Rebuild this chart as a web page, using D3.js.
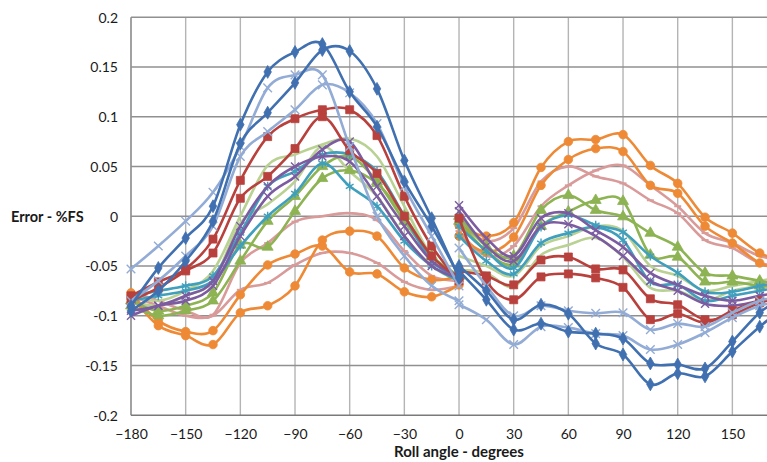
<!DOCTYPE html>
<html>
<head>
<meta charset="utf-8">
<script src="https://cdn.jsdelivr.net/npm/d3@7"></script>
<style>
  html, body { margin: 0; padding: 0; background: #ffffff; }
  svg { display: block; }
  text { font-family: Lato, "Liberation Sans", sans-serif; fill: #1a1a1a; }
</style>
</head>
<body>
<svg id="chart" width="767" height="462"></svg>
<script>
// Roll angles of the two sweeps (degrees)
const anglesNeg = [-180, -165, -150, -135, -120, -105, -90, -75, -60, -45, -30, -15, 0];
const anglesPos = [0, 15, 30, 45, 60, 75, 90, 105, 120, 135, 150, 165, 180];

// Axis ticks (gridlines run to 180; the labelled ones stop at 150, inside the frame)
const xGrid = [-180, -150, -120, -90, -60, -30, 0, 30, 60, 90, 120, 150, 180];
const xTickLabels = [-180, -150, -120, -90, -60, -30, 0, 30, 60, 90, 120, 150];
const yTicks = [-0.2, -0.15, -0.1, -0.05, 0, 0.05, 0.1, 0.15, 0.2];
const yTickLabels = ["-0.2", "-0.15", "-0.1", "-0.05", "0", "0.05", "0.1", "0.15", "0.2"];

// Error (%FS) per unit, negative sweep then positive sweep
const blueA_neg = [-0.09, -0.052, -0.022, 0.01, 0.092, 0.145, 0.165, 0.173, 0.125, 0.09, 0.035, -0.01, -0.06];
const blueA_pos = [-0.05, -0.075, -0.104, -0.089, -0.098, -0.128, -0.139, -0.169, -0.158, -0.161, -0.136, -0.111, -0.09];
const blueB_neg = [-0.095, -0.075, -0.045, -0.005, 0.073, 0.104, 0.134, 0.167, 0.166, 0.128, 0.056, -0.002, -0.062];
const blueB_pos = [-0.055, -0.084, -0.114, -0.108, -0.116, -0.118, -0.123, -0.148, -0.149, -0.153, -0.126, -0.097, -0.08];
const redA_neg = [-0.08, -0.066, -0.053, -0.023, 0.036, 0.08, 0.098, 0.107, 0.107, 0.081, 0.02, -0.03, -0.065];
const redA_pos = [-0.002, -0.065, -0.084, -0.061, -0.058, -0.062, -0.0715, -0.104, -0.098, -0.107, -0.095, -0.085, -0.08];
const redB_neg = [-0.085, -0.072, -0.055, -0.037, 0.018, 0.04, 0.068, 0.1, 0.066, 0.043, 0.0, -0.04, -0.062];
const redB_pos = [-0.055, -0.06, -0.069, -0.044, -0.041, -0.053, -0.054, -0.083, -0.089, -0.104, -0.099, -0.087, -0.08];
const greenA_neg = [-0.085, -0.095, -0.09, -0.077, -0.029, -0.031, 0.005, 0.038, 0.046, 0.033, 0.0, -0.04, -0.06];
const greenA_pos = [0.0, -0.03, -0.04, 0.006, 0.021, 0.006, -0.0005, -0.017, -0.031, -0.057, -0.06, -0.065, -0.07];
const greenB_neg = [-0.09, -0.1, -0.095, -0.085, -0.045, -0.005, 0.02, 0.05, 0.06, 0.035, -0.005, -0.04, -0.06];
const greenB_pos = [-0.005, -0.035, -0.048, -0.01, 0.0045, 0.016, 0.015, -0.039, -0.041, -0.066, -0.066, -0.07, -0.072];
const purpleA_neg = [-0.1, -0.09, -0.085, -0.07, -0.02, 0.02, 0.04, 0.067, 0.075, 0.03, -0.01, -0.045, -0.06];
const purpleA_pos = [0.011, -0.022, -0.04, -0.002, 0.003, -0.014, -0.031, -0.057, -0.069, -0.08, -0.085, -0.08, -0.075];
const purpleB_neg = [-0.095, -0.09, -0.08, -0.065, -0.01, 0.03, 0.05, 0.06, 0.055, 0.02, -0.02, -0.05, -0.062];
const purpleB_pos = [0.005, -0.03, -0.045, -0.01, -0.008, -0.02, -0.04, -0.065, -0.075, -0.088, -0.09, -0.085, -0.08];
const tealA_neg = [-0.08, -0.075, -0.07, -0.06, -0.017, 0.03, 0.045, 0.062, 0.062, 0.045, 0.0, -0.045, -0.062];
const tealA_pos = [-0.01, -0.035, -0.052, -0.011, 0.001, -0.009, -0.016, -0.04, -0.057, -0.076, -0.076, -0.07, -0.065];
const tealB_neg = [-0.085, -0.08, -0.075, -0.065, -0.03, 0.0, 0.023, 0.053, 0.03, 0.01, -0.025, -0.05, -0.065];
const tealB_pos = [-0.02, -0.045, -0.058, -0.027, -0.017, -0.011, -0.024, -0.066, -0.069, -0.085, -0.08, -0.075, -0.07];
const orangeA_neg = [-0.077, -0.105, -0.116, -0.115, -0.079, -0.049, -0.038, -0.03, -0.056, -0.058, -0.076, -0.081, -0.069];
const orangeA_pos = [-0.009, -0.02, -0.0065, 0.049, 0.075, 0.077, 0.082, 0.051, 0.033, -0.001, -0.017, -0.037, -0.045];
const orangeB_neg = [-0.08, -0.11, -0.12, -0.129, -0.097, -0.09, -0.07, -0.024, -0.015, -0.02, -0.052, -0.064, -0.06];
const orangeB_pos = [-0.02, -0.036, -0.021, 0.031, 0.057, 0.068, 0.065, 0.031, 0.023, -0.01, -0.027, -0.047, -0.055];
const lightBlueA_neg = [-0.053, -0.03, -0.005, 0.024, 0.07, 0.129, 0.142, 0.142, 0.07, 0.0, -0.04, -0.07, -0.085];
const lightBlueA_pos = [-0.089, -0.104, -0.129, -0.111, -0.112, -0.118, -0.12, -0.134, -0.129, -0.117, -0.102, -0.09, -0.085];
const lightBlueB_neg = [-0.085, -0.065, -0.04, -0.01, 0.06, 0.085, 0.107, 0.132, 0.124, 0.093, 0.03, -0.02, -0.07];
const lightBlueB_pos = [-0.032, -0.07, -0.1, -0.09, -0.095, -0.0976, -0.097, -0.114, -0.108, -0.111, -0.097, -0.085, -0.08];
const pinkA_neg = [-0.076, -0.085, -0.095, -0.099, -0.047, -0.027, -0.0055, 0.0, 0.003, -0.004, -0.035, -0.06, -0.065];
const pinkA_pos = [-0.005, -0.025, -0.012, 0.035, 0.05, 0.04, 0.033, 0.016, 0.003, -0.024, -0.032, -0.047, -0.05];
const pinkB_neg = [-0.08, -0.09, -0.1, -0.1, -0.074, -0.067, -0.049, -0.037, -0.037, -0.047, -0.066, -0.074, -0.07];
const pinkB_pos = [-0.015, -0.04, -0.03, 0.01, 0.031, 0.046, 0.051, 0.031, 0.01, -0.017, -0.027, -0.04, -0.045];
const lightGreenA_neg = [-0.08, -0.085, -0.075, -0.055, 0.0, 0.051, 0.062, 0.072, 0.078, 0.06, 0.01, -0.04, -0.062];
const lightGreenA_pos = [-0.054, -0.057, -0.071, -0.039, -0.029, -0.022, -0.041, -0.072, -0.075, -0.085, -0.075, -0.07, -0.065];
const lightGreenB_neg = [-0.085, -0.09, -0.08, -0.065, -0.007, 0.012, 0.035, 0.07, 0.045, 0.02, -0.02, -0.05, -0.065];
const lightGreenB_pos = [-0.04, -0.05, -0.06, -0.03, -0.02, -0.01, -0.015, -0.05, -0.06, -0.075, -0.07, -0.065, -0.06];

// Series table (drawn in this order, later ones on top)
const series = [
  { neg: pinkB_neg, pos: pinkB_pos, color: "#d99a9a", marker: "dash" },
  { neg: pinkA_neg, pos: pinkA_pos, color: "#d99a9a", marker: "dash" },
  { neg: lightGreenB_neg, pos: lightGreenB_pos, color: "#b9d192", marker: "none" },
  { neg: lightGreenA_neg, pos: lightGreenA_pos, color: "#b9d192", marker: "none" },
  { neg: orangeB_neg, pos: orangeB_pos, color: "#ee8a36", marker: "circle" },
  { neg: orangeA_neg, pos: orangeA_pos, color: "#ee8a36", marker: "circle" },
  { neg: greenB_neg, pos: greenB_pos, color: "#8db352", marker: "triangle" },
  { neg: greenA_neg, pos: greenA_pos, color: "#8db352", marker: "triangle" },
  { neg: tealB_neg, pos: tealB_pos, color: "#3f9fbd", marker: "asterisk" },
  { neg: tealA_neg, pos: tealA_pos, color: "#3f9fbd", marker: "asterisk" },
  { neg: purpleB_neg, pos: purpleB_pos, color: "#7c5ca1", marker: "times" },
  { neg: purpleA_neg, pos: purpleA_pos, color: "#7c5ca1", marker: "times" },
  { neg: redB_neg, pos: redB_pos, color: "#b9413d", marker: "square" },
  { neg: redA_neg, pos: redA_pos, color: "#b9413d", marker: "square" },
  { neg: lightBlueB_neg, pos: lightBlueB_pos, color: "#93acd6", marker: "plus" },
  { neg: lightBlueA_neg, pos: lightBlueA_pos, color: "#93acd6", marker: "plus" },
  { neg: blueB_neg, pos: blueB_pos, color: "#4070b0", marker: "diamond" },
  { neg: blueA_neg, pos: blueA_pos, color: "#4070b0", marker: "diamond" }
];

const svg = d3.select("#chart");
const plotLeft = 131, plotTop = 17.2, plotBottom = 415.2;
const pxPer30 = 54.67;

const x = d3.scaleLinear().domain([-180, 180]).range([plotLeft, plotLeft + 12 * pxPer30]);
const y = d3.scaleLinear().domain([-0.2, 0.2]).range([plotBottom, plotTop]);

// Gridlines
const grid = svg.append("g");
grid.selectAll("line.v").data(xGrid).join("line")
  .attr("x1", d => x(d)).attr("x2", d => x(d))
  .attr("y1", plotTop).attr("y2", plotBottom)
  .attr("stroke", d => d === -180 ? "#7a7a7a" : "#b4b4b4")
  .attr("stroke-width", 1.4);
grid.selectAll("line.h").data(yTicks).join("line")
  .attr("x1", plotLeft).attr("x2", x(180))
  .attr("y1", d => y(d)).attr("y2", d => y(d))
  .attr("stroke", d => d === -0.2 ? "#7a7a7a" : "#909090")
  .attr("stroke-width", 1.4);

// Axes (labels only; the gridlines act as the frame)
const xAxis = d3.axisBottom(x).tickValues(xTickLabels).tickSize(0).tickPadding(0);
svg.append("g").attr("transform", `translate(0,${plotBottom})`).call(xAxis)
  .call(g => g.select(".domain").remove())
  .selectAll("text")
  .attr("dy", 0).attr("y", 24)
  .style("font-size", "14px").style("font-family", "Lato, 'Liberation Sans', sans-serif")
  .attr("fill", "#1a1a1a");

const yAxis = d3.axisLeft(y).tickValues(yTicks).tickSize(0).tickPadding(0)
  .tickFormat((d, i) => yTickLabels[i]);
svg.append("g").attr("transform", `translate(${plotLeft - 13},0)`).call(yAxis)
  .call(g => g.select(".domain").remove())
  .selectAll("text")
  .attr("dy", "0.35em")
  .style("font-size", "14px").style("font-family", "Lato, 'Liberation Sans', sans-serif")
  .attr("fill", "#1a1a1a");

// Axis titles
svg.append("text").attr("x", 11).attr("y", 222)
  .attr("font-size", 14.5).attr("font-weight", "bold").text("Error - %FS");
svg.append("text").attr("x", x(0)).attr("y", 457).attr("text-anchor", "middle")
  .attr("font-size", 15).attr("font-weight", "bold").text("Roll angle - degrees");

// Curves
const line = d3.line()
  .x(d => x(d[0])).y(d => y(d[1]))
  .curve(d3.curveCatmullRom.alpha(0));

const symbolTypes = {
  diamond: d3.symbolDiamond, square: d3.symbolSquare, triangle: d3.symbolTriangle,
  circle: d3.symbolCircle, times: d3.symbolTimes, asterisk: d3.symbolAsterisk, plus: d3.symbolTimes
};
const symbolSizes = { diamond: 48, square: 64, triangle: 52, circle: 58, times: 44, asterisk: 56, plus: 50 };
const strokeMarkers = new Set(["times", "asterisk", "plus"]);

const plot = svg.append("g");
series.forEach(s => {
  const g = plot.append("g");
  const segs = [d3.zip(anglesNeg, s.neg), d3.zip(anglesPos, s.pos)];
  segs.forEach(pts => {
    g.append("path").attr("d", line(pts))
      .attr("fill", "none").attr("stroke", s.color)
      .attr("stroke-width", 2.6).attr("stroke-linejoin", "round").attr("stroke-linecap", "round");
    if (s.marker === "none") return;
    if (s.marker === "dash") {
      g.selectAll(null).data(pts).join("line")
        .attr("x1", d => x(d[0]) - 3.5).attr("x2", d => x(d[0]) + 3.5)
        .attr("y1", d => y(d[1])).attr("y2", d => y(d[1]))
        .attr("stroke", s.color).attr("stroke-width", 2);
      return;
    }
    const sym = d3.symbol().type(symbolTypes[s.marker]).size(symbolSizes[s.marker]);
    const isStroke = strokeMarkers.has(s.marker);
    g.selectAll(null).data(pts).join("path")
      .attr("transform", d => `translate(${x(d[0])},${y(d[1])})`)
      .attr("d", sym)
      .attr("fill", isStroke ? "none" : s.color)
      .attr("stroke", s.color)
      .attr("stroke-width", isStroke ? 1.4 : 0.8);
  });
});
</script>
</body>
</html>
